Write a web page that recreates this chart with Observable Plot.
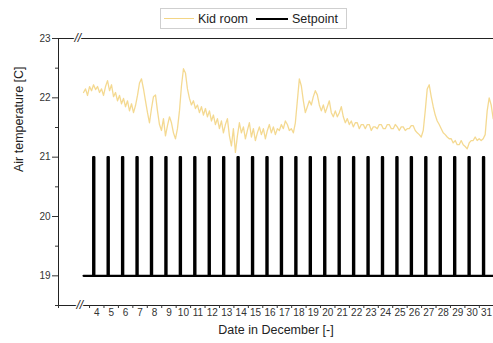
<!DOCTYPE html>
<html>
<head>
<meta charset="utf-8">
<script src="https://cdn.jsdelivr.net/npm/d3@7"></script>
<script src="https://cdn.jsdelivr.net/npm/@observablehq/plot@0.6"></script>
<style>
  html, body { margin: 0; padding: 0; background: #fff; }
  body { width: 493px; height: 343px; overflow: hidden; font-family: "Liberation Sans", Arial, sans-serif; }
  #legendRow { position: relative; height: 32px; }
  #legendBox { position: absolute; left: 160px; top: 8px; width: 187px; height: 21px; padding: 0 3px;
    border: 1px solid #cfcfcf; box-sizing: border-box; display: flex; align-items: center;
    font-size: 12.5px; color: #222; }
  .sw { display: inline-block; height: 0; margin: 0 4px 0 0; }
  .lab { margin-right: 8px; }
</style>
</head>
<body>
<div id="legendRow"><div id="legendBox"></div></div>
<div id="chart"></div>
<script>
// ---- data ----
const seriesNames = ["Kid room", "Setpoint"];
const seriesColors = ["#f3d585", "#000000"];

const kidStartDay = 3.585;      // first sample (day of December)
const kidStepDays = 0.1384;     // sampling interval in days
const kidTemps = [
  22.09,22.15,22.04,22.19,22.12,22.22,22.14,22.19,22.09,22.15,22.04,22.19,22.29,22.12,22.22,22.02,22.09,21.95,22.04,21.90,
  21.99,21.85,21.95,21.78,21.90,21.75,21.87,22.04,22.25,22.32,22.15,21.95,21.75,21.58,21.82,22.02,22.05,21.78,21.55,21.45,
  21.65,21.36,21.53,21.68,21.58,21.41,21.31,21.48,21.78,22.20,22.49,22.42,
  22.15,21.99,21.88,21.95,21.82,21.88,21.75,21.85,21.71,21.82,21.68,21.78,21.61,21.71,21.55,21.65,21.48,21.61,21.41,21.55,
  21.65,21.36,21.19,21.48,21.08,21.36,21.58,21.41,21.51,21.31,21.45,21.58,21.34,21.48,21.28,21.41,21.51,21.38,21.48,21.31,
  21.45,21.55,21.41,21.51,21.38,21.48,21.45,21.55,21.48,21.61,21.55,21.45,
  21.48,21.41,21.58,21.95,22.32,22.20,21.95,21.75,21.85,21.95,21.88,22.02,22.12,22.05,21.88,21.78,21.88,21.75,21.85,21.95,
  21.75,21.68,21.78,21.68,21.75,21.85,21.68,21.58,21.65,21.55,21.61,21.51,21.58,21.58,21.48,21.55,21.55,21.48,21.55,21.55,
  21.45,21.51,21.51,21.48,21.55,21.55,21.48,21.48,21.55,21.55,
  21.48,21.48,21.55,21.51,21.45,21.51,21.51,21.45,21.48,21.48,21.53,21.53,21.45,21.41,21.38,21.34,21.45,21.78,22.15,22.22,
  22.02,21.85,21.71,21.61,21.55,21.48,21.41,21.38,21.34,21.31,21.31,21.24,21.28,21.21,21.21,21.28,21.21,21.18,21.14,21.24,
  21.28,21.28,21.34,21.28,21.31,21.28,21.31,21.38,21.78,22.00,21.88,21.65
];

const setpointStartDay = 3.585;
const setpointLow = 19;
const setpointHigh = 21;
const pulseDays = [4,5,6,7,8,9,10,11,12,13,14,15,16,17,18,19,20,21,22,23,24,25,26,27,28,29,30,31];
const pulseOnHour = 6;
const pulseOffHour = 8;

const xDomain = [1.85, 31.98];
const yDomain = [18.5, 23];
const yMajorTicks = [19, 20, 21, 22, 23];
const yMinorTicks = [18.5, 19.5, 20.5, 21.5, 22.5];
const dayBoundaryTicks = [4,5,6,7,8,9,10,11,12,13,14,15,16,17,18,19,20,21,22,23,24,25,26,27,28,29,30,31];
const dayLabels = [4,5,6,7,8,9,10,11,12,13,14,15,16,17,18,19,20,21,22,23,24,25,26,27,28,29,30,31];

const yTitle = "Air temperature [C]";
const xTitle = "Date in December [-]";

// ---- build tables ----
const kid = kidTemps.map((t, i) => ({day: kidStartDay + i * kidStepDays, temp: t}));
const setpoint = [{day: setpointStartDay, temp: setpointLow}];
for (const d of pulseDays) {
  const on = d + pulseOnHour / 24, off = d + pulseOffHour / 24;
  setpoint.push({day: on, temp: setpointLow}, {day: on, temp: setpointHigh},
                {day: off, temp: setpointHigh}, {day: off, temp: setpointLow});
}
setpoint.push({day: xDomain[1] + 1, temp: setpointLow});

// ---- legend ----
const lb = document.getElementById("legendBox");
seriesNames.forEach((n, i) => {
  const sw = document.createElement("span");
  sw.className = "sw";
  sw.style.width = (i === 0 ? 30 : 32) + "px";
  sw.style.borderTop = (i === 0 ? "1.5px" : "2px") + " solid " + seriesColors[i];
  const t = document.createElement("span");
  t.className = "lab";
  t.textContent = n;
  if (i === seriesNames.length - 1) t.style.marginRight = "0";
  lb.appendChild(sw); lb.appendChild(t);
});

// ---- chart ----
const font = "Liberation Sans, Arial, sans-serif";
const chart = Plot.plot({
  width: 493,
  height: 311,
  marginLeft: 58,
  marginRight: 0,
  marginTop: 6,
  marginBottom: 38,
  style: {fontFamily: font, background: "white", overflow: "visible"},
  x: {domain: xDomain},
  y: {domain: yDomain},
  marks: [
    Plot.line(kid, {x: "day", y: "temp", stroke: seriesColors[0], strokeWidth: 1.3, strokeOpacity: 0.9, clip: true}),
    Plot.line(setpoint, {x: "day", y: "temp", stroke: seriesColors[1], strokeWidth: 2.2, clip: true}),
    // frame lines (left, top, bottom)
    Plot.ruleX([xDomain[0]], {stroke: "#222", strokeWidth: 1}),
    Plot.ruleY([yDomain[1]], {stroke: "#222", strokeWidth: 1}),
    Plot.ruleY([yDomain[0]], {stroke: "#222", strokeWidth: 1}),
    // y axis
    Plot.axisY({ticks: yMajorTicks, tickSize: 6, tickPadding: 2, tickFormat: d => String(d), fontSize: 10, color: "#333", label: null}),
    Plot.axisY({ticks: yMinorTicks, tickSize: 3, tickFormat: () => "", label: null, color: "#333"}),
    // x axis
    Plot.axisX({ticks: [xDomain[0], ...dayBoundaryTicks], tickSize: 3, tickFormat: () => "", label: null, color: "#333"}),
    Plot.axisX({ticks: dayLabels.map(d => d + 0.5), tickSize: 0, tickPadding: 3, tickFormat: d => String(Math.floor(d)), fontSize: 10, color: "#333", label: null}),
    // axis break marks
    Plot.text(["//"], {frameAnchor: "top-left", dx: 16, dy: 0, text: d => d, fontSize: 12, fontStyle: "italic", fill: "#222", stroke: "white", strokeWidth: 2.5, paintOrder: "stroke", lineAnchor: "middle"}),
    Plot.text(["//"], {frameAnchor: "bottom-left", dx: 18, dy: 0, text: d => d, fontSize: 12, fontStyle: "italic", fill: "#222", stroke: "white", strokeWidth: 2.5, paintOrder: "stroke", lineAnchor: "middle"}),
    // titles
    Plot.text([yTitle], {frameAnchor: "left", dx: -40, rotate: -90, text: d => d, fontSize: 12.5, fill: "#222"}),
    Plot.text([xTitle], {frameAnchor: "bottom", dy: 28, text: d => d, fontSize: 12.5, fill: "#222"})
  ]
});
document.getElementById("chart").appendChild(chart);
</script>
</body>
</html>
